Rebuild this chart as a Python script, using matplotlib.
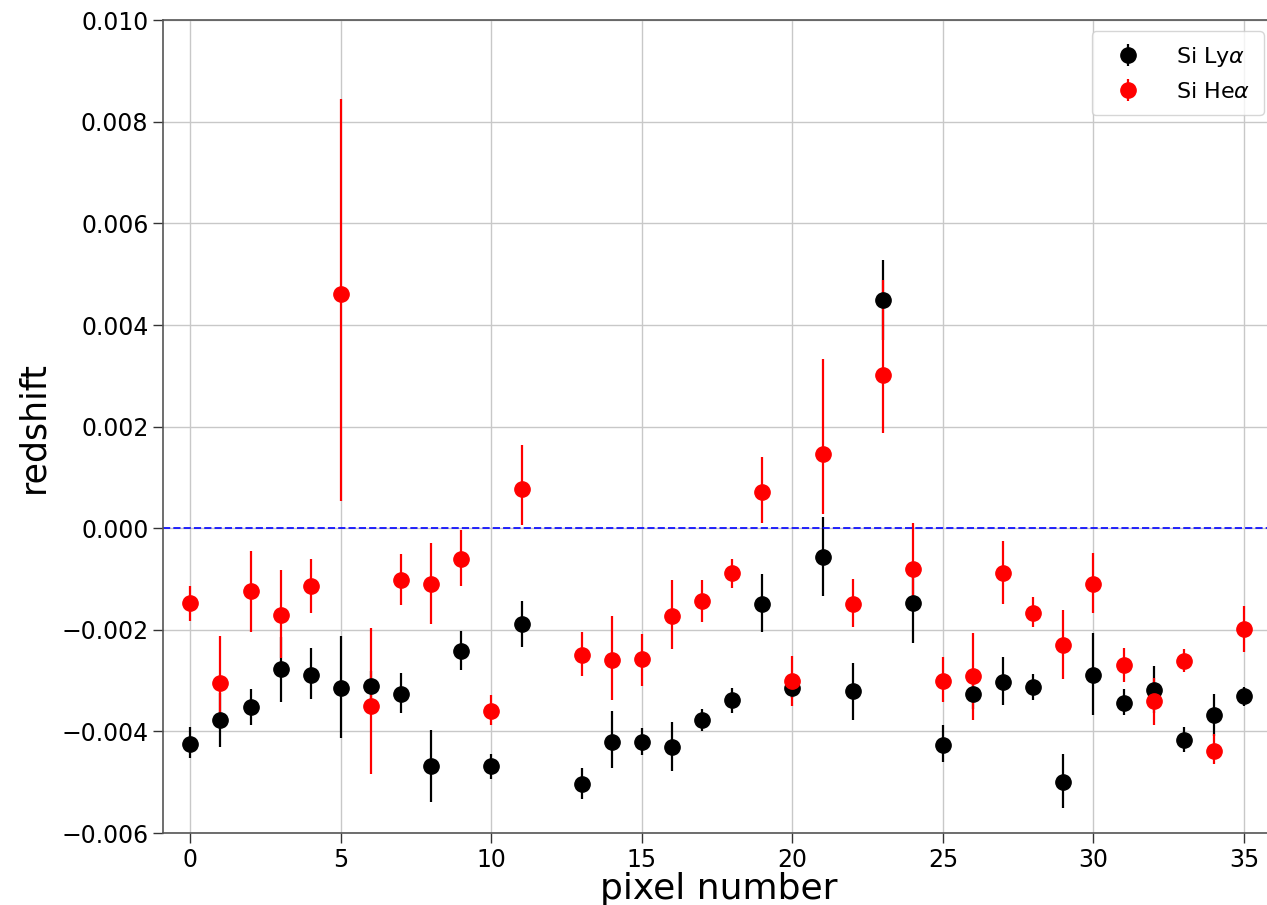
import numpy as np
import matplotlib
matplotlib.use("Agg")
import matplotlib.pyplot as plt
from matplotlib.ticker import FuncFormatter

# pixel numbers (pixel 12 has no measurement)
pixels = [0, 1, 2, 3, 4, 5, 6, 7, 8, 9, 10, 11, 13, 14, 15, 16, 17, 18,
          19, 20, 21, 22, 23, 24, 25, 26, 27, 28, 29, 30, 31, 32, 33, 34, 35]

# values in units of 1e-3
ly_z = [-4.24, -3.78, -3.52, -2.78, -2.89, -3.14, -3.11, -3.26, -4.69, -2.41,
        -4.69, -1.89, -5.03, -4.21, -4.21, -4.30, -3.78, -3.39, -1.49, -3.14,
        -0.57, -3.21, 4.49, -1.47, -4.26, -3.26, -3.03, -3.13, -5.00, -2.89,
        -3.45, -3.18, -4.16, -3.68, -3.31]
ly_err_lo = [0.29, 0.53, 0.36, 0.64, 0.48, 0.99, 0.30, 0.38, 0.69, 0.38,
             0.24, 0.44, 0.31, 0.51, 0.26, 0.47, 0.22, 0.24, 0.56, 0.20,
             0.77, 0.56, 0.79, 0.79, 0.34, 0.30, 0.45, 0.26, 0.51, 0.79,
             0.23, 0.46, 0.25, 0.41, 0.18]
ly_err_hi = [0.33, 0.53, 0.35, 0.64, 0.54, 1.02, 0.30, 0.41, 0.71, 0.39,
             0.24, 0.46, 0.31, 0.61, 0.28, 0.49, 0.22, 0.24, 0.59, 0.20,
             0.80, 0.56, 0.79, 0.79, 0.38, 0.30, 0.49, 0.26, 0.55, 0.82,
             0.28, 0.46, 0.25, 0.41, 0.18]

he_z = [-1.48, -3.05, -1.24, -1.71, -1.14, 4.61, -3.49, -1.02, -1.09, -0.60,
        -3.59, 0.78, -2.50, -2.60, -2.57, -1.73, -1.43, -0.89, 0.72, -3.01,
        1.46, -1.49, 3.02, -0.80, -3.01, -2.91, -0.89, -1.66, -2.29, -1.09,
        -2.70, -3.41, -2.61, -4.38, -1.99]
he_err_lo = [0.34, 0.85, 0.80, 0.85, 0.53, 4.08, 1.35, 0.49, 0.80, 0.54,
             0.28, 0.72, 0.41, 0.78, 0.54, 0.64, 0.41, 0.28, 0.62, 0.48,
             1.18, 0.46, 1.15, 0.75, 0.42, 0.87, 0.61, 0.28, 0.67, 0.58,
             0.33, 0.47, 0.23, 0.26, 0.44]
he_err_hi = [0.34, 0.93, 0.79, 0.89, 0.53, 3.85, 1.53, 0.51, 0.80, 0.57,
             0.30, 0.85, 0.45, 0.87, 0.49, 0.71, 0.41, 0.28, 0.69, 0.50,
             1.88, 0.49, 1.86, 0.90, 0.47, 0.84, 0.64, 0.31, 0.69, 0.61,
             0.35, 0.47, 0.23, 0.33, 0.45]

scale = 1e-3
x = np.array(pixels)
ly = np.array(ly_z) * scale
ly_err = np.array([ly_err_lo, ly_err_hi]) * scale
he = np.array(he_z) * scale
he_err = np.array([he_err_lo, he_err_hi]) * scale

W, H = 1267, 905
fig = plt.figure(figsize=(W / 100, H / 100), dpi=100)
left, right = 163 / W, 1275 / W
bottom, top = 1 - 833 / H, 1 - 20.3 / H
ax = fig.add_axes([left, bottom, right - left, top - bottom])

ax.grid(True, color='#c8c8c8', linewidth=1.0)
ax.set_axisbelow(True)

ax.errorbar(x, ly, yerr=ly_err, fmt='o', color='black', ecolor='black',
            markersize=11, elinewidth=1.6, label=r'Si Ly$\alpha$')
ax.errorbar(x, he, yerr=he_err, fmt='o', color='red', ecolor='red',
            markersize=11, elinewidth=1.6, label=r'Si He$\alpha$')
ax.axhline(0.0, color='blue', linestyle='--', linewidth=1.4, alpha=0.85)

ax.set_xlim(-0.91, 36.03)
ax.set_ylim(-0.006, 0.010)
ax.set_xticks([0, 5, 10, 15, 20, 25, 30, 35])
ax.set_yticks(np.arange(-0.006, 0.0101, 0.002))
ax.yaxis.set_major_formatter(FuncFormatter(
    lambda v, p: f"{v:.3f}".replace('-', '\u2212') if abs(v) > 1e-12 else "0.000"))
ax.tick_params(axis='both', labelsize=17, length=7, width=1,
               colors='#333333', labelcolor='black')

for s in ax.spines.values():
    s.set_color('#555555')
    s.set_linewidth(1.2)
ax.spines['right'].set_visible(False)

ax.set_xlabel('pixel number', fontsize=26, labelpad=0)
ax.set_ylabel('redshift', fontsize=25, labelpad=8)

ax.legend(loc='upper right', fontsize=16, borderaxespad=0.5, handletextpad=1.2,
          borderpad=0.6, labelspacing=0.6)

fig.savefig('out.png', dpi=100)
